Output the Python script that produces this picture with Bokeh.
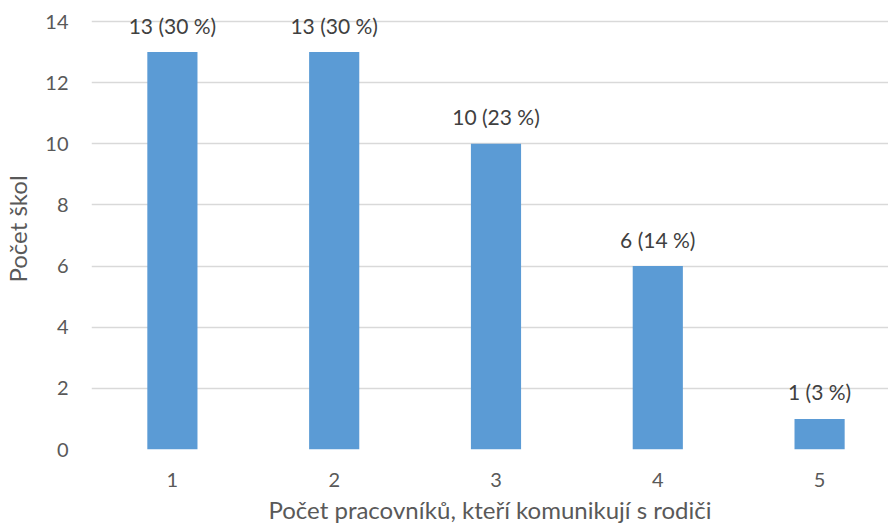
from bokeh.plotting import figure
from bokeh.models import ColumnDataSource, Range1d, FixedTicker
from bokeh.core.properties import value
from bokeh.embed import file_html
from bokeh.resources import INLINE

categories = [1, 2, 3, 4, 5]
counts = [13, 13, 10, 6, 1]
percents = [30, 30, 23, 14, 3]
y_ticks = [0, 2, 4, 6, 8, 10, 12, 14]
x_title = "Počet pracovníků, kteří komunikují s rodiči"
y_title = "Počet škol"

labels = [f"{c} ({p} %)" for c, p in zip(counts, percents)]
src = ColumnDataSource(dict(x=categories, top=counts, label=labels))

FONT = "Lato"
GRAY = "#595959"

# frame: x from 90px to the right edge, y=0 at 449px, y=14 at 21px (extra headroom for labels)
p = figure(width=888, height=530, output_backend="svg", toolbar_location=None,
           x_range=Range1d(0.5, 0.5 + 798 / 162), y_range=Range1d(0, 14 * 441 / 428),
           min_border_left=90, min_border_right=0, min_border_top=8, min_border_bottom=81)
p.outline_line_color = None
p.background_fill_color = "white"

p.vbar(x="x", top="top", width=0.31, bottom=0, source=src, fill_color="#5B9BD5", line_color=None)
p.text(x="x", y="top", text="label", source=src, text_align="center", text_baseline="alphabetic",
       y_offset=-27, text_font=value(FONT), text_font_size="21px", text_color="#404040")

p.xaxis.ticker = FixedTicker(ticks=categories)
p.yaxis.ticker = FixedTicker(ticks=y_ticks)
p.xgrid.grid_line_color = None
p.ygrid.grid_line_color = "#D9D9D9"
p.ygrid.grid_line_width = 1.3

for ax in (p.xaxis[0], p.yaxis[0]):
    ax.axis_line_color = None
    ax.major_tick_line_color = None
    ax.minor_tick_line_color = None
    ax.major_tick_out = 0
    ax.major_tick_in = 0
    ax.major_label_text_font = FONT
    ax.major_label_text_font_size = "20px"
    ax.major_label_text_color = GRAY
    ax.axis_label_text_font = FONT
    ax.axis_label_text_font_size = "24px"
    ax.axis_label_text_color = GRAY
    ax.axis_label_text_font_style = "normal"

p.xaxis.axis_label = x_title
p.yaxis.axis_label = y_title
p.xaxis.major_label_standoff = 23
p.xaxis.axis_label_standoff = 5
p.yaxis.major_label_standoff = 23
p.yaxis.axis_label_standoff = 10

open("out.html", "w").write(file_html(p, INLINE))
